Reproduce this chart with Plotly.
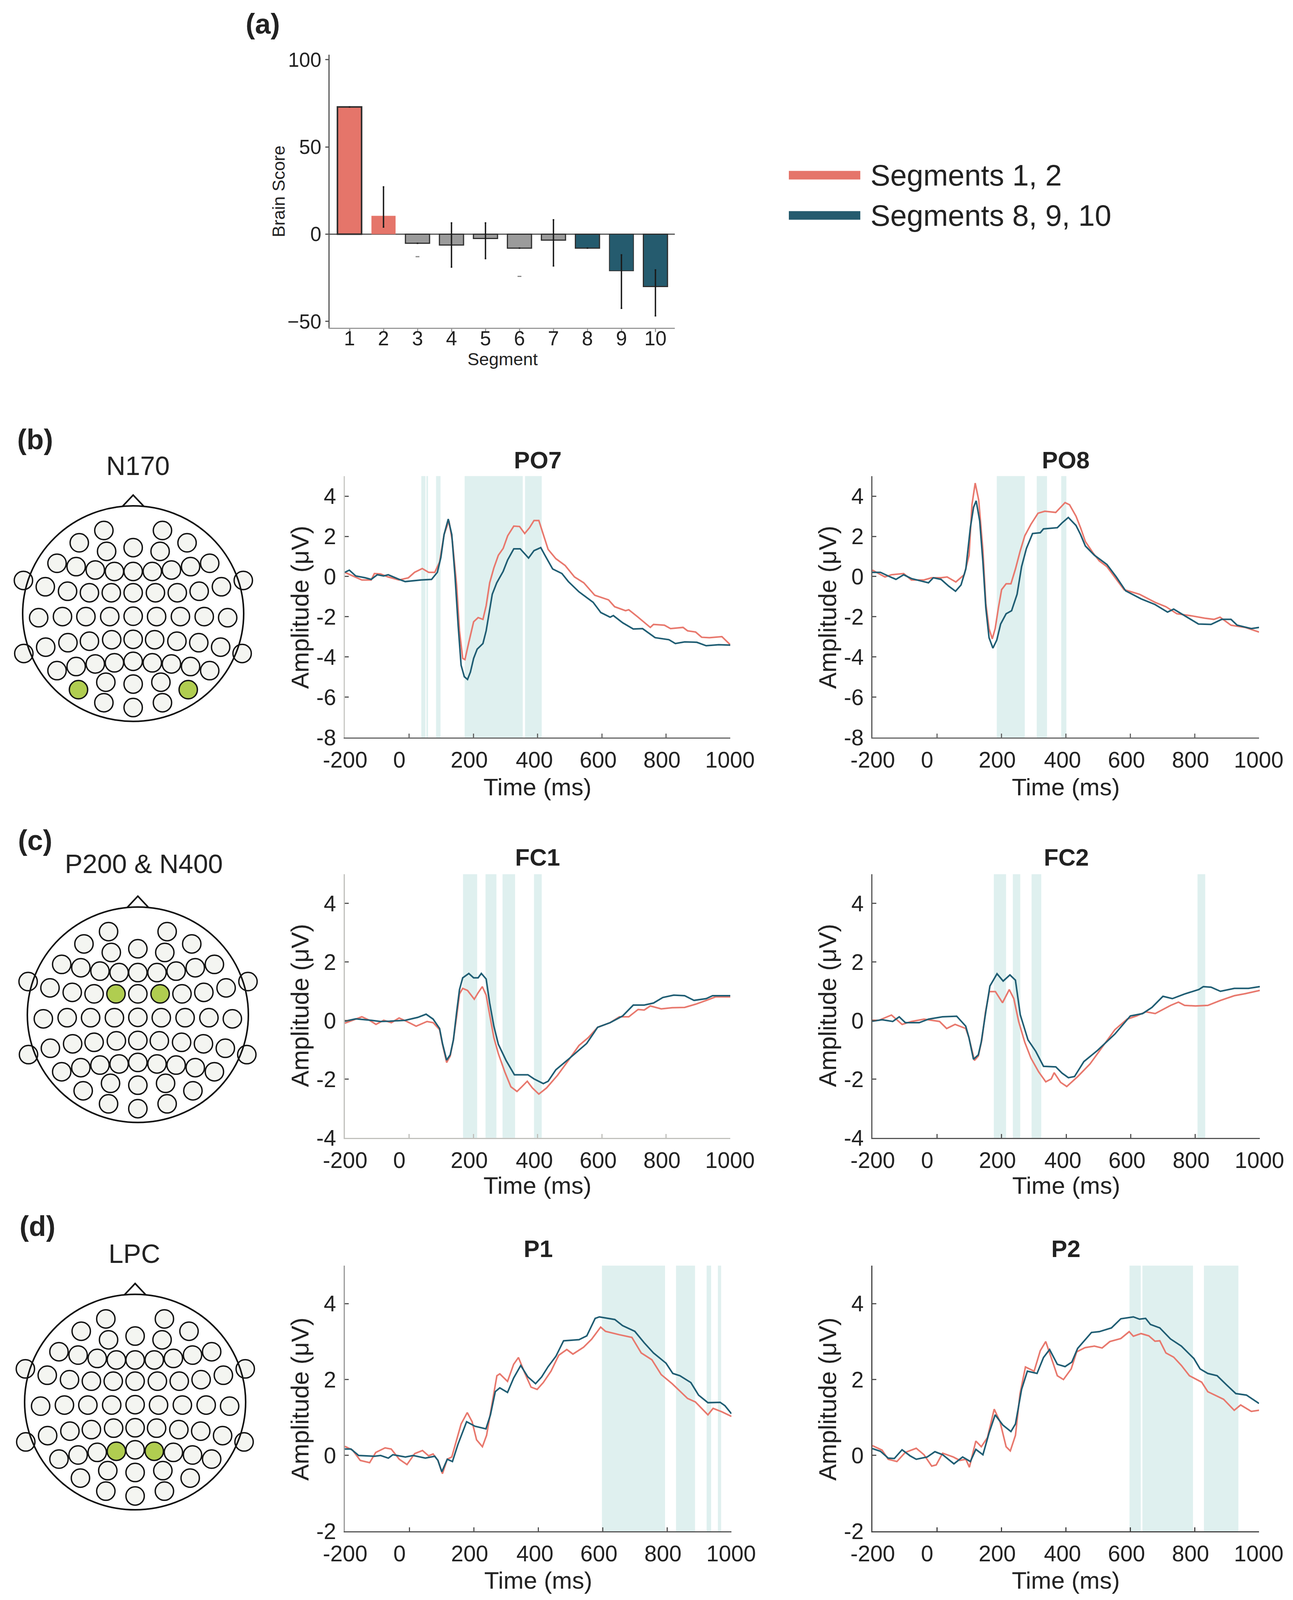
import plotly.graph_objects as go

W = 3311
H = 4292
# the photographed page stops at 4096 px, so the layout below is fitted into that height
PAGE_H = 4096

# panel (a): brain scores per segment
SEGMENTS = [1, 2, 3, 4, 5, 6, 7, 8, 9, 10]
BRAIN_SCORE = [72.9, 10.5, -5.2, -6.2, -2.5, -8.0, -3.4, -8.0, -21.0, -30.0]
ERR_HIGH = [72.9, 27.1, -5.2, 6.4, 6.4, -8.0, 8.2, -8.0, -11.9, -20.5]
ERR_LOW = [72.9, 4.1, -5.2, -18.9, -14.0, -8.0, -18.2, -8.0, -42.5, -46.8]
DASH_SEGMENTS = [3, 6]
DASH_VALUES = [-12.9, -24.2]
BAR_COLORS = ["#E5756A", "#E5756A", "#9B9B9B", "#9B9B9B", "#9B9B9B", "#9B9B9B", "#9B9B9B", "#255B6E", "#255B6E", "#255B6E"]
BAR_EDGES = [4, 0, 3, 3, 3, 3, 3, 3, 2, 3]
LEGEND_NAMES = ["Segments 1, 2", "Segments 8, 9, 10"]

# electrode layout, same for the three heads
ELECTRODE_X = [-75, 75,
               -138, -68, 0, 69, 138,
               -195, -146, -97, -48, 0, 49, 98, 147, 196,
               -281, 282,
               -225, -168, -112, -56, 0, 57, 113, 169, 226,
               -242, -181, -121, -60, 0, 60, 121, 182, 242,
               -224, -167, -112, -55, 0, 55, 112, 168, 224,
               -280, 279,
               -195, -146, -97, -48, 0, 49, 98, 147, 196,
               -140, -70, 0, 71, 141,
               -75, 0, 75]
ELECTRODE_Y = [223, 223,
               190, 167, 177, 167, 190,
               135, 126, 117, 113, 113, 113, 117, 126, 135,
               89, 89,
               72, 60, 56, 56, 56, 56, 56, 60, 72,
               -11, -8, -8, -8, -7, -8, -8, -8, -11,
               -90, -78, -74, -70, -69, -70, -74, -78, -90,
               -107, -107,
               -153, -142, -135, -132, -128, -132, -135, -142, -153,
               -204, -184, -189, -184, -204,
               -239, -252, -239]
NOSE_X = [-27, 0, 27]
NOSE_Y = [288, 318, 288]

HEAD_LABELS = ["N170", "P200 & N400", "LPC"]
HEAD_GREEN = [[56, 60], [21, 23], [50, 52]]
HEAD_CENTERS = [(341, 1646), (353, 2722), (346, 3761)]
HEAD_LABEL_POS = [(353, 1249), (368, 2317), (344, 3363)]

# ERP traces
PO7_RED_T = [-200, -176, -147, -118, -108, -89, -65, -31, -2, 17, 41, 61, 80, 95, 109, 124, 135, 148, 157, 167, 174, 186, 201, 215, 230, 240, 251, 264, 278, 293, 307, 326, 344, 360, 375, 389, 404, 418, 433, 457, 486, 515, 544, 578, 621, 640, 674, 684, 713, 751, 761, 795, 814, 853, 867, 892, 911, 935, 974, 1000]
PO7_RED_V = [0.21, 0.03, -0.17, -0.17, 0.15, 0.13, -0.02, -0.17, -0.06, 0.21, 0.40, 0.21, 0.21, 0.72, 2.09, 2.77, 1.74, -0.42, -2.70, -4.07, -4.13, -3.27, -2.25, -2.04, -2.13, -1.45, -0.31, 0.43, 1.06, 1.40, 2.03, 2.51, 2.49, 2.14, 2.43, 2.79, 2.79, 2.09, 1.35, 0.89, 0.55, -0.02, -0.31, -0.93, -1.16, -1.50, -1.70, -1.65, -2.02, -2.53, -2.38, -2.42, -2.59, -2.53, -2.70, -2.76, -3.02, -3.04, -2.99, -3.39]
PO7_TEAL_T = [-200, -186, -166, -137, -118, -99, -79, -65, -31, -12, 37, 70, 88, 99, 109, 122, 133, 143, 153, 162, 172, 182, 191, 201, 212, 230, 240, 249, 259, 273, 293, 307, 326, 346, 360, 372, 389, 410, 423, 447, 476, 496, 529, 573, 597, 626, 636, 665, 698, 727, 766, 809, 829, 858, 896, 925, 964, 1000]
PO7_TEAL_V = [0.21, 0.32, 0.03, -0.06, -0.14, 0.09, 0.03, 0.09, -0.14, -0.25, -0.17, -0.14, 0.21, 0.95, 2.09, 2.86, 2.09, 0.03, -2.47, -4.41, -4.98, -5.12, -4.75, -4.07, -3.61, -3.33, -2.70, -1.79, -0.88, -0.31, 0.26, 0.83, 1.38, 1.38, 1.12, 0.92, 1.29, 1.44, 1.06, 0.38, 0.15, -0.25, -0.76, -1.28, -1.79, -2.02, -1.94, -2.30, -2.61, -2.59, -3.04, -3.14, -3.33, -3.25, -3.27, -3.44, -3.39, -3.41]

PO8_RED_T = [-200, -161, -141, -103, -79, -40, -16, 13, 32, 59, 85, 100, 109, 119, 130, 143, 152, 162, 172, 181, 191, 201, 215, 230, 244, 259, 273, 292, 314, 335, 369, 384, 398, 412, 432, 446, 461, 485, 504, 528, 552, 581, 629, 677, 711, 745, 793, 831, 860, 879, 913, 957, 1000]
PO8_RED_V = [0.32, -0.02, 0.09, 0.15, -0.17, -0.17, -0.06, -0.06, -0.02, -0.27, 0.09, 1.06, 3.57, 4.65, 3.80, 1.29, -1.33, -2.59, -3.10, -2.59, -1.56, -0.65, -0.36, -0.36, 0.38, 1.29, 2.03, 2.60, 3.15, 3.25, 3.19, 3.45, 3.68, 3.57, 3.00, 2.43, 1.74, 1.17, 0.78, 0.49, -0.02, -0.65, -0.88, -1.28, -1.50, -1.85, -1.96, -2.07, -2.13, -2.02, -2.42, -2.53, -2.76]
PO8_TEAL_T = [-200, -175, -151, -127, -103, -79, -26, -11, 13, 37, 58, 75, 90, 104, 114, 122, 133, 143, 152, 162, 174, 186, 198, 215, 232, 249, 263, 278, 297, 321, 331, 374, 388, 408, 432, 446, 461, 489, 528, 557, 586, 634, 677, 716, 735, 759, 812, 851, 884, 913, 932, 976, 1000]
PO8_TEAL_V = [0.21, 0.21, 0.03, -0.14, 0.09, -0.10, -0.31, -0.06, -0.14, -0.48, -0.73, -0.42, 0.38, 2.43, 3.45, 3.77, 2.77, 0.72, -1.56, -3.04, -3.56, -3.16, -2.36, -1.85, -1.70, -0.88, 0.49, 1.40, 2.14, 2.18, 2.37, 2.43, 2.66, 2.94, 2.54, 2.09, 1.52, 1.06, 0.60, -0.02, -0.71, -1.11, -1.39, -1.77, -1.62, -1.85, -2.36, -2.38, -2.13, -2.13, -2.42, -2.59, -2.53]

FC1_RED_T = [-200, -176, -147, -123, -103, -79, -55, -31, -7, 22, 56, 75, 95, 104, 117, 128, 138, 148, 157, 167, 182, 203, 215, 228, 240, 251, 264, 278, 298, 317, 336, 351, 368, 384, 404, 428, 462, 496, 529, 558, 587, 626, 655, 684, 713, 732, 751, 785, 819, 858, 892, 925, 954, 1000]
FC1_RED_V = [-0.09, 0.01, 0.13, 0.01, -0.13, 0.01, -0.07, 0.09, -0.03, -0.19, -0.03, -0.07, -0.31, -0.81, -1.43, -1.21, -0.66, 0.13, 0.91, 1.10, 1.03, 0.73, 0.95, 1.16, 0.87, 0.20, -0.58, -1.13, -1.75, -2.26, -2.42, -2.26, -2.07, -2.30, -2.51, -2.30, -1.87, -1.36, -0.85, -0.58, -0.23, -0.07, 0.13, 0.13, 0.38, 0.36, 0.50, 0.40, 0.44, 0.45, 0.56, 0.69, 0.81, 0.81]
FC1_TEAL_T = [-200, -166, -118, -89, -60, -12, 27, 53, 75, 95, 104, 117, 128, 138, 148, 157, 167, 186, 201, 215, 225, 240, 251, 264, 278, 302, 328, 370, 389, 418, 433, 457, 496, 553, 587, 626, 665, 698, 732, 761, 790, 824, 858, 887, 925, 945, 1000]
FC1_TEAL_V = [-0.02, 0.06, 0.01, -0.03, -0.02, 0.01, 0.11, 0.22, 0.05, -0.27, -0.78, -1.35, -1.17, -0.66, 0.28, 1.06, 1.46, 1.61, 1.46, 1.46, 1.61, 1.42, 0.60, -0.19, -0.81, -1.36, -1.85, -1.85, -1.99, -2.15, -2.07, -1.68, -1.32, -0.78, -0.23, -0.07, 0.16, 0.53, 0.53, 0.60, 0.79, 0.87, 0.85, 0.69, 0.75, 0.85, 0.85]

FC2_RED_T = [-200, -180, -141, -108, -79, -40, 8, 30, 56, 89, 99, 116, 128, 139, 150, 162, 181, 203, 224, 238, 253, 272, 291, 315, 337, 354, 363, 383, 402, 436, 474, 513, 551, 589, 618, 647, 676, 724, 748, 767, 801, 839, 878, 921, 955, 1000]
FC2_RED_V = [0.01, 0.01, 0.19, -0.13, -0.03, 0.05, -0.03, -0.27, -0.13, -0.27, -0.58, -1.36, -1.21, -0.66, 0.28, 0.99, 0.99, 0.61, 1.06, 0.75, -0.03, -0.74, -1.28, -1.75, -2.09, -1.99, -1.78, -2.11, -2.25, -1.91, -1.48, -0.89, -0.31, 0.05, 0.16, 0.30, 0.24, 0.52, 0.63, 0.52, 0.50, 0.52, 0.69, 0.85, 0.92, 1.03]
FC2_TEAL_T = [-200, -170, -137, -117, -98, -55, -26, 17, 61, 89, 99, 113, 128, 137, 152, 164, 186, 205, 226, 243, 258, 282, 306, 330, 368, 387, 407, 426, 455, 498, 551, 599, 637, 666, 700, 729, 767, 811, 825, 849, 878, 921, 965, 1000]
FC2_TEAL_V = [-0.02, 0.03, -0.03, 0.13, -0.07, -0.07, 0.05, 0.13, 0.15, -0.19, -0.58, -1.32, -1.17, -0.74, 0.36, 1.18, 1.60, 1.35, 1.56, 1.38, 0.20, -0.66, -1.05, -1.56, -1.58, -1.79, -1.95, -1.91, -1.40, -1.01, -0.46, 0.16, 0.24, 0.45, 0.83, 0.75, 0.91, 1.06, 1.16, 1.14, 1.00, 1.10, 1.10, 1.16]

P1_RED_T = [-200, -176, -152, -123, -104, -75, -56, -31, -7, 17, 41, 60, 74, 89, 103, 118, 132, 147, 161, 180, 195, 209, 227, 240, 257, 272, 281, 305, 324, 339, 359, 378, 397, 416, 440, 464, 489, 508, 541, 566, 594, 609, 652, 691, 720, 753, 782, 816, 864, 888, 927, 943, 970, 1000]
P1_RED_V = [0.24, 0.14, -0.13, -0.19, 0.08, 0.20, 0.17, -0.10, -0.24, 0.05, 0.13, -0.01, 0.04, -0.13, -0.48, -0.10, -0.04, 0.41, 0.83, 1.13, 0.89, 0.41, 0.23, 0.53, 1.37, 2.10, 2.15, 1.95, 2.40, 2.58, 2.16, 1.80, 1.74, 1.92, 2.22, 2.64, 2.79, 2.67, 2.85, 3.06, 3.38, 3.27, 3.18, 3.11, 2.70, 2.52, 2.13, 1.89, 1.50, 1.41, 1.07, 1.24, 1.15, 1.03]
P1_TEAL_T = [-200, -181, -157, -108, -89, -65, -51, -12, 12, 50, 79, 89, 101, 118, 134, 151, 178, 204, 238, 252, 267, 281, 305, 324, 346, 368, 392, 411, 431, 455, 479, 527, 551, 577, 590, 638, 662, 700, 729, 758, 797, 818, 840, 874, 898, 927, 965, 980, 1000]
P1_TEAL_V = [0.17, 0.17, 0.00, -0.02, 0.00, -0.07, 0.02, -0.04, 0.00, -0.07, -0.02, -0.13, -0.43, -0.10, -0.16, 0.29, 0.89, 0.77, 0.70, 1.07, 1.68, 1.78, 1.66, 2.04, 2.37, 2.07, 1.89, 2.07, 2.34, 2.61, 3.02, 3.05, 3.15, 3.61, 3.65, 3.58, 3.42, 3.27, 2.97, 2.70, 2.43, 2.16, 2.10, 1.92, 1.59, 1.39, 1.40, 1.31, 1.10]

P2_RED_T = [-200, -170, -151, -124, -98, -64, -40, -16, -2, 18, 51, 71, 90, 101, 121, 138, 157, 178, 196, 215, 228, 244, 258, 275, 302, 321, 338, 355, 374, 393, 417, 434, 460, 489, 513, 537, 571, 597, 610, 634, 658, 677, 692, 711, 735, 759, 784, 822, 841, 890, 923, 943, 976, 1000]
P2_RED_V = [0.26, 0.14, -0.10, -0.16, 0.08, 0.19, 0.02, -0.28, -0.25, 0.06, -0.04, -0.13, -0.10, -0.31, 0.38, 0.23, 0.47, 1.22, 0.89, 0.23, 0.12, 0.53, 1.62, 2.33, 2.22, 2.76, 3.00, 2.58, 2.10, 2.00, 2.28, 2.73, 2.84, 2.88, 2.83, 3.00, 3.08, 3.26, 3.14, 3.21, 3.15, 3.01, 3.02, 2.70, 2.59, 2.37, 2.10, 1.93, 1.68, 1.48, 1.19, 1.33, 1.16, 1.19]
P2_TEAL_T = [-200, -175, -151, -132, -108, -83, -64, -30, -6, 18, 53, 80, 104, 121, 143, 162, 181, 205, 230, 244, 263, 281, 311, 331, 350, 374, 398, 419, 437, 480, 504, 542, 571, 610, 629, 648, 663, 692, 725, 759, 798, 817, 841, 870, 899, 928, 961, 1000]
P2_TEAL_V = [0.18, 0.11, -0.07, -0.08, 0.15, -0.01, -0.10, -0.04, 0.10, 0.02, -0.22, -0.04, -0.16, 0.16, 0.02, 0.59, 1.07, 0.80, 0.63, 0.83, 1.74, 2.22, 2.16, 2.58, 2.79, 2.40, 2.34, 2.46, 2.82, 3.24, 3.26, 3.36, 3.60, 3.65, 3.59, 3.61, 3.45, 3.36, 3.07, 2.88, 2.55, 2.28, 2.16, 2.10, 1.86, 1.63, 1.59, 1.37]

# significant time windows
PO7_BANDS = [(38, 51), (54, 59), (84, 98), (173, 354), (361, 413)]
PO8_BANDS = [(186, 273), (310, 342), (386, 402)]
FC1_BANDS = [(168, 212), (238, 272), (291, 330), (389, 413)]
FC2_BANDS = [(176, 214), (235, 258), (293, 323), (807, 831)]
P1_BANDS = [(598, 794), (828, 887), (923, 937), (958, 968)]
P2_BANDS = [(598, 633), (638, 795), (829, 936)]

X_TICKS = [-200, 0, 200, 400, 600, 800, 1000]
X_LABEL_POS = [-200, -31, 187, 390, 589, 788, 1000]
X_LABELS = ["-200", "0", "200", "400", "600", "800", "1000"]

RED = "#E8786D"
TEAL = "#1F5D73"
BAND = "#DFF0EF"
TEXT = "#222222"
FONT = "Liberation Sans"

PANELS = [
    ("PO7", PO7_RED_T, PO7_RED_V, PO7_TEAL_T, PO7_TEAL_V, PO7_BANDS, (883, 1870, 1277, 1978), [-8, 5], [-8, -6, -4, -2, 0, 2, 4], "#C8C8C4", "#666666", 1234, 2111, 1629),
    ("PO8", PO8_RED_T, PO8_RED_V, PO8_TEAL_T, PO8_TEAL_V, PO8_BANDS, (2234, 3224, 1277, 1978), [-8, 5], [-8, -6, -4, -2, 0, 2, 4], "#555555", "#666666", 1234, 2111, 1629),
    ("FC1", FC1_RED_T, FC1_RED_V, FC1_TEAL_T, FC1_TEAL_V, FC1_BANDS, (883, 1870, 2345, 3052), [-4, 5], [-4, -2, 0, 2, 4], "#C0C0BC", "#C0C0BC", 2300, 3180, 2697),
    ("FC2", FC2_RED_T, FC2_RED_V, FC2_TEAL_T, FC2_TEAL_V, FC2_BANDS, (2234, 3226, 2345, 3052), [-4, 5], [-4, -2, 0, 2, 4], "#555555", "#555555", 2300, 3180, 2697),
    ("P1", P1_RED_T, P1_RED_V, P1_TEAL_T, P1_TEAL_V, P1_BANDS, (883, 1873, 3395, 4108), [-2, 5], [-2, 0, 2, 4], "#999999", "#555555", 3350, 4239, 3753),
    ("P2", P2_RED_T, P2_RED_V, P2_TEAL_T, P2_TEAL_V, P2_BANDS, (2234, 3224, 3395, 4108), [-2, 5], [-2, 0, 2, 4], "#444444", "#444444", 3350, 4239, 3753),
]


def px(x):
    return x / W


def py(y):
    return 1 - y / H


def dom_y(top, bottom):
    return [py(bottom), py(top)]


def label(text, x, y, size, bold=False, anchor="center", angle=0):
    fig.add_annotation(
        text=f"<b>{text}</b>" if bold else text,
        x=px(x), y=py(y), xref="paper", yref="paper",
        xanchor=anchor, yanchor="middle", textangle=angle,
        showarrow=False, font=dict(family=FONT, size=size, color=TEXT),
    )


fig = go.Figure()

# bar chart
fig.add_trace(go.Bar(
    x=SEGMENTS, y=BRAIN_SCORE, width=0.71, showlegend=False,
    marker=dict(color=BAR_COLORS, line=dict(color="#2E2E2E", width=BAR_EDGES)),
    error_y=dict(
        type="data", symmetric=False, width=2, thickness=3.5, color="#1A1A1A",
        array=[h - v for h, v in zip(ERR_HIGH, BRAIN_SCORE)],
        arrayminus=[v - l for l, v in zip(ERR_LOW, BRAIN_SCORE)],
    ),
    xaxis="x", yaxis="y",
))
fig.add_trace(go.Scatter(
    x=DASH_SEGMENTS, y=DASH_VALUES, mode="markers", showlegend=False,
    marker=dict(symbol="line-ew", size=7, line=dict(color="#888888", width=3)),
    xaxis="x", yaxis="y",
))
fig.update_layout(
    xaxis=dict(
        domain=[px(844), px(1728)], range=[0.414, 10.57], anchor="y", automargin=False,
        tickvals=SEGMENTS, ticks="outside", ticklen=8, tickwidth=3, tickcolor="#999999",
        showgrid=False, zeroline=False, showline=True, linecolor="#999999", linewidth=3,
        tickfont=dict(family=FONT, size=51, color=TEXT), ticklabelstandoff=-27,
    ),
    yaxis=dict(
        domain=dom_y(147, 879), range=[-53.6, 102.8], anchor="x", automargin=False,
        tickvals=[-50, 0, 50, 100], ticktext=["\u221250", "0", "50", "100"],
        ticks="outside", ticklen=8, tickwidth=3, tickcolor="#555555",
        showgrid=False, zeroline=True, zerolinecolor="#555555", zerolinewidth=3,
        showline=True, linecolor="#555555", linewidth=3,
        tickfont=dict(family=FONT, size=51, color=TEXT),
    ),
)

# ERP panels
ax = 2
for name, r_t, r_v, t_t, t_v, bands, box, y_range, y_ticks, left_color, bottom_color, title_y, xlab_y, ylab_y in PANELS:
    left, right, top, bottom = box
    xid, yid, twin = f"x{ax}", f"y{ax}", f"x{ax + 1}"
    for start, end in bands:
        fig.add_shape(
            type="rect", xref=xid, yref=f"{yid} domain", x0=start, x1=end, y0=0, y1=1,
            fillcolor=BAND, line_width=0, layer="below",
        )
    fig.add_trace(go.Scatter(x=r_t, y=r_v, mode="lines", line=dict(color=RED, width=4), showlegend=False, xaxis=xid, yaxis=yid))
    fig.add_trace(go.Scatter(x=t_t, y=t_v, mode="lines", line=dict(color=TEAL, width=4), showlegend=False, xaxis=xid, yaxis=yid))
    fig.update_layout({
        f"xaxis{ax}": dict(
            domain=[px(left), px(right)], range=[-200, 1000], anchor=yid, automargin=False,
            tickvals=X_TICKS, showticklabels=False, ticks="inside", ticklen=10, tickwidth=3, tickcolor=bottom_color,
            showgrid=False, zeroline=False, showline=True, linecolor=bottom_color, linewidth=3,
        ),
        f"yaxis{ax}": dict(
            domain=dom_y(top, bottom), range=y_range, anchor=xid, automargin=False,
            tickvals=y_ticks, ticktext=[str(v) for v in y_ticks],
            ticks="inside", ticklen=10, tickwidth=3, tickcolor="#555555",
            showgrid=False, zeroline=False, showline=True, linecolor=left_color, linewidth=3,
            tickfont=dict(family=FONT, size=57, color=TEXT), ticklabelstandoff=8,
        ),
        # labels sit left of their ticks in the original, so they get their own axis
        f"xaxis{ax + 1}": dict(
            domain=[px(left), px(right)], range=[-201, 1001], anchor=yid, overlaying=xid, side="bottom", automargin=False,
            tickvals=X_LABEL_POS, ticktext=X_LABELS, ticks="", showgrid=False, zeroline=False, showline=False,
            tickfont=dict(family=FONT, size=57, color=TEXT), ticklabelstandoff=19,
        ),
    })
    fig.add_trace(go.Scatter(x=[None], y=[None], showlegend=False, xaxis=twin, yaxis=yid))
    label(name, (left + right) / 2, title_y, 61, bold=True)
    label("Time (ms)", (left + right) / 2, xlab_y, 62)
    label("Amplitude (\u03bcV)", left - 115, ylab_y, 63, angle=-90)
    ax += 2

# electrode maps
for head_label, green, (cx, cy), (lx, ly) in zip(HEAD_LABELS, HEAD_GREEN, HEAD_CENTERS, HEAD_LABEL_POS):
    xid, yid = f"x{ax}", f"y{ax}"
    fig.add_shape(type="circle", xref=xid, yref=yid, x0=-283, x1=283, y0=-289, y1=289, line=dict(color="#111111", width=4))
    fig.add_trace(go.Scatter(x=NOSE_X, y=NOSE_Y, mode="lines", line=dict(color="#111111", width=4), showlegend=False, xaxis=xid, yaxis=yid))
    colors = ["#B0CD50" if i in green else "#F4F5F1" for i in range(len(ELECTRODE_X))]
    fig.add_trace(go.Scatter(
        x=ELECTRODE_X, y=ELECTRODE_Y, mode="markers", showlegend=False, xaxis=xid, yaxis=yid,
        marker=dict(size=47, color=colors, line=dict(color="#111111", width=3.5)),
    ))
    fig.update_layout({
        f"xaxis{ax}": dict(domain=[px(cx - 330), px(cx + 330)], range=[-330, 330], anchor=yid, visible=False, automargin=False),
        f"yaxis{ax}": dict(domain=dom_y(cy - 330, cy + 330), range=[-330, 330], anchor=xid, visible=False, automargin=False),
    })
    label(head_label, lx, ly, 68)
    ax += 1

# legend: plotly caps swatch thickness, so it is drawn by hand
for legend_name, color, ly in zip(LEGEND_NAMES, ["#E5756A", "#255B6E"], [470, 578]):
    fig.add_shape(type="line", xref="paper", yref="paper", x0=px(2020), x1=px(2203), y0=py(ly), y1=py(ly), line=dict(color=color, width=22))
    label(legend_name, 2227, ly, 76, anchor="left")

label("(a)", 627, 64, 72, bold=True, anchor="left")
label("(b)", 42, 1179, 72, bold=True, anchor="left")
label("(c)", 44, 2254, 72, bold=True, anchor="left")
label("(d)", 48, 3289, 72, bold=True, anchor="left")
label("Brain Score", 714, 514, 45, angle=-90)
label("Segment", 1287, 963, 45)

fig.update_layout(
    template="none",
    width=W, height=PAGE_H,
    margin=dict(l=0, r=0, t=0, b=0, autoexpand=False),
    paper_bgcolor="white", plot_bgcolor="rgba(0,0,0,0)",
    showlegend=False,
)

fig.write_html("out.html", config=dict(displayModeBar=False), post_script="document.body.style.margin = '0';")
